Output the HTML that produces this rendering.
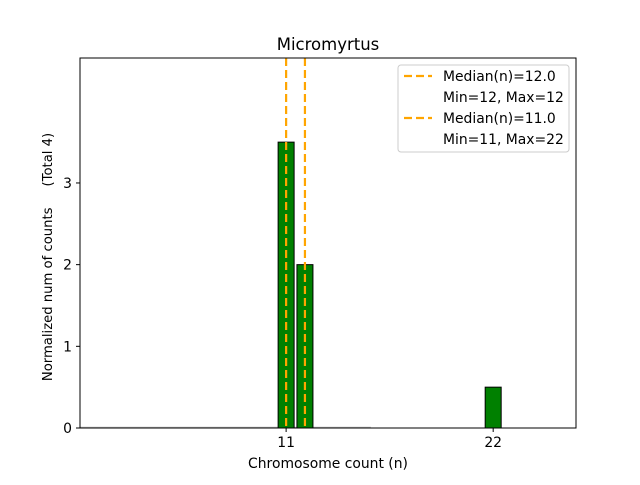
<!DOCTYPE html>
<html><head><meta charset="utf-8"><style>body{margin:0;background:#fff}svg text{font-family:"DejaVu Sans","Liberation Sans",sans-serif}</style></head>
<body>
<svg id="chart" width="640" height="480" viewBox="0 0 640 480" xmlns="http://www.w3.org/2000/svg">
<rect width="640" height="480" fill="#fff"/>
<g id="marks"></g>
<rect x="80" y="58" width="496" height="370" fill="none" stroke="#000" stroke-width="1"/>
<g id="axes"></g>
<text x="328" y="50" text-anchor="middle" font-size="16.5">Micromyrtus</text>
<text x="328" y="468" text-anchor="middle" font-size="13.9">Chromosome count (n)</text>
<text transform="translate(52,257) rotate(-90)" text-anchor="middle" font-size="13.2" style="white-space:pre" xml:space="preserve">Normalized num of counts     (Total 4)</text>
<g>
<rect x="398" y="65" width="171" height="87" rx="3" fill="#fff" fill-opacity="0.8" stroke="#ccc"/>
<line x1="404" y1="76" x2="432" y2="76" stroke="orange" stroke-width="2.2" stroke-dasharray="8,4"/>
<text x="443" y="81" font-size="13.9">Median(n)=12.0</text>
<text x="443" y="102" font-size="13.9">Min=12, Max=12</text>
<line x1="404" y1="118" x2="432" y2="118" stroke="orange" stroke-width="2.2" stroke-dasharray="8,4"/>
<text x="443" y="123" font-size="13.9">Median(n)=11.0</text>
<text x="443" y="144" font-size="13.9">Min=11, Max=22</text>
</g>
</svg>
<script>
const barCenters = [11, 12, 22];
const barValues = [3.5, 2, 0.5];
const medians = [11, 12];
const xTicks = [11, 22];
const yTicks = [0, 1, 2, 3];
const X0=80, X1=576, Y0=428, Y1=58;
const xMin=0.05, xMax=26.4, yMin=0, yMax=4.53;
const xs=v=>X0+(v-xMin)/(xMax-xMin)*(X1-X0);
const ys=v=>Y0-(v-yMin)/(yMax-yMin)*(Y0-Y1);
const NS="http://www.w3.org/2000/svg";
const marks=document.getElementById('marks'), axes=document.getElementById('axes');
function mk(tag,attrs,parent){const e=document.createElementNS(NS,tag);for(const k in attrs)e.setAttribute(k,attrs[k]);parent.appendChild(e);return e;}
const base=mk('line',{x1:X0,y1:Y0-0.5,x2:xs(15.5),y2:Y0-0.5,stroke:'#bbb','stroke-width':1.5},marks);


const bw=0.85;
barCenters.forEach((c,i)=>{
  const r=mk('rect',{x:xs(c-bw/2),y:ys(barValues[i]),width:xs(c+bw/2)-xs(c-bw/2),height:ys(0)-ys(barValues[i]),fill:'green',stroke:'#000','stroke-width':1},marks);
  
  
});
medians.forEach(m=>{
  const l=mk('line',{x1:xs(m),y1:Y1,x2:xs(m),y2:Y0,stroke:'orange','stroke-width':2.2,'stroke-dasharray':'8,4'},marks);
  
  
});
xTicks.forEach(t=>{
  mk('line',{x1:xs(t),y1:Y0,x2:xs(t),y2:Y0+4,stroke:'#000'},axes);
  const tx=mk('text',{x:xs(t),y:Y0+19,'text-anchor':'middle','font-size':13.9},axes);
  tx.textContent=t;
  
  
});
yTicks.forEach(t=>{
  mk('line',{x1:X0-4,y1:ys(t),x2:X0,y2:ys(t),stroke:'#000'},axes);
  const tx=mk('text',{x:X0-8,y:ys(t)+5,'text-anchor':'end','font-size':13.9},axes);
  tx.textContent=t;
  
  
});
</script>
</body></html>
